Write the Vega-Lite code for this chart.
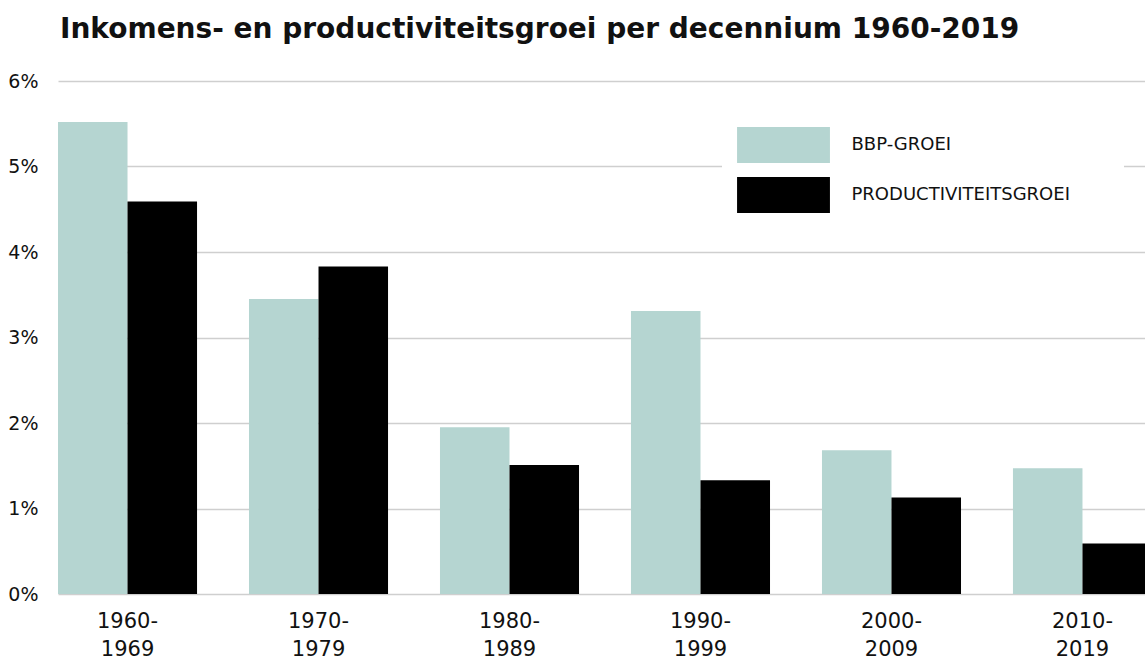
{
  "$schema": "https://vega.github.io/schema/vega-lite/v6.json",
  "width": 1087,
  "height": 513,
  "autosize": {"type": "none"},
  "padding": {"left": 58, "top": 81, "right": 0, "bottom": 66},
  "background": "white",
  "title": {
    "text": "Inkomens- en productiviteitsgroei per decennium 1960-2019",
    "anchor": "start",
    "frame": "group",
    "fontSize": 28,
    "font": "DejaVu Sans",
    "fontWeight": "bold",
    "color": "#111111",
    "offset": 36,
    "baseline": "bottom",
    "dx": 2,
    "dy": 36
  },
  "data": {
    "values": [
      {"decade": "1960-1969", "reeks": "BBP-GROEI", "groei": 5.52},
      {"decade": "1960-1969", "reeks": "PRODUCTIVITEITSGROEI", "groei": 4.59},
      {"decade": "1970-1979", "reeks": "BBP-GROEI", "groei": 3.45},
      {"decade": "1970-1979", "reeks": "PRODUCTIVITEITSGROEI", "groei": 3.83},
      {"decade": "1980-1989", "reeks": "BBP-GROEI", "groei": 1.95},
      {"decade": "1980-1989", "reeks": "PRODUCTIVITEITSGROEI", "groei": 1.51},
      {"decade": "1990-1999", "reeks": "BBP-GROEI", "groei": 3.31},
      {"decade": "1990-1999", "reeks": "PRODUCTIVITEITSGROEI", "groei": 1.33},
      {"decade": "2000-2009", "reeks": "BBP-GROEI", "groei": 1.68},
      {"decade": "2000-2009", "reeks": "PRODUCTIVITEITSGROEI", "groei": 1.13},
      {"decade": "2010-2019", "reeks": "BBP-GROEI", "groei": 1.47},
      {"decade": "2010-2019", "reeks": "PRODUCTIVITEITSGROEI", "groei": 0.59}
    ]
  },
  "mark": {"type": "bar", "clip": true},
  "encoding": {
    "x": {
      "field": "decade",
      "type": "nominal",
      "sort": null,
      "scale": {"range": [0, 1094], "paddingInner": 0.272, "paddingOuter": 0},
      "axis": {
        "title": null,
        "domain": false,
        "ticks": false,
        "labelAngle": 0,
        "labelExpr": "[slice(datum.label, 0, 5), slice(datum.label, 5)]",
        "labelFont": "DejaVu Sans",
        "labelFontSize": 21,
        "labelLineHeight": 28,
        "labelPadding": 16,
        "labelBaseline": "top",
        "labelColor": "#111111"
      }
    },
    "xOffset": {
      "field": "reeks",
      "type": "nominal",
      "sort": ["BBP-GROEI", "PRODUCTIVITEITSGROEI"],
      "scale": {"paddingInner": 0, "paddingOuter": 0}
    },
    "y": {
      "field": "groei",
      "type": "quantitative",
      "scale": {"domain": [0, 6]},
      "axis": {
        "title": null,
        "values": [0, 1, 2, 3, 4, 5, 6],
        "labelExpr": "datum.value + '%'",
        "domain": false,
        "ticks": false,
        "gridColor": "#cfcfcf",
        "gridWidth": 1.5,
        "labelFont": "DejaVu Sans",
        "labelFontSize": 19,
        "labelPadding": 20,
        "labelColor": "#111111"
      }
    },
    "color": {
      "field": "reeks",
      "type": "nominal",
      "sort": ["BBP-GROEI", "PRODUCTIVITEITSGROEI"],
      "scale": {"domain": ["BBP-GROEI", "PRODUCTIVITEITSGROEI"], "range": ["#b5d5d1", "#000000"]},
      "legend": {
        "title": "\u00a0",
        "titleOrient": "right",
        "titleFontSize": 10,
        "titlePadding": 39,
        "orient": "none",
        "legendX": 664,
        "legendY": 31,
        "padding": 15,
        "fillColor": "white",
        "symbolType": "M-2.58,-1H2.58V1H-2.58Z",
        "symbolSize": 1296,
        "symbolOffset": 28.5,
        "symbolStrokeWidth": 0,
        "labelOffset": 50,
        "labelFont": "DejaVu Sans",
        "labelFontSize": 18,
        "labelColor": "#111111",
        "labelLimit": 400,
        "rowPadding": 14
      }
    }
  },
  "config": {"view": {"stroke": null}}
}
